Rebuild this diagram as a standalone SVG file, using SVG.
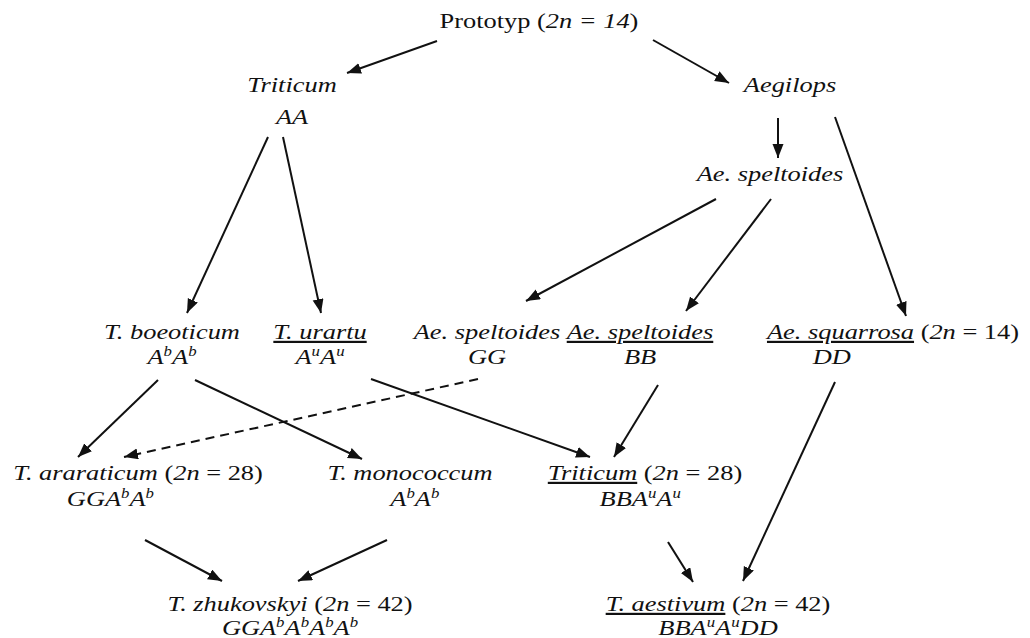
<svg xmlns="http://www.w3.org/2000/svg" width="1030" height="638" viewBox="0 0 1030 638" font-family="Liberation Serif, Times New Roman, Times, DejaVu Serif, serif">
<style>
text{font-family:"Liberation Serif","Times New Roman",Times,"DejaVu Serif","Noto Serif",serif;font-size:22px;font-style:italic;fill:#111;text-anchor:middle}
.n{font-style:normal}
.u{text-decoration:underline}
.s{font-size:14px}
.e{stroke:#111;stroke-width:2;fill:none;marker-end:url(#ah)}
.d{stroke-dasharray:9 6}
</style>
<defs>
<marker id="ah" markerUnits="userSpaceOnUse" markerWidth="16" markerHeight="12" refX="14" refY="5.5" orient="auto">
<path d="M0,0 L14,5.5 L0,11 z" fill="#111"/>
</marker>
</defs>
<rect width="1030" height="638" fill="#fff"/>
<g id="edges">
<line class="e" x1="437" y1="41" x2="347" y2="73"/>
<line class="e" x1="653" y1="40" x2="729" y2="83"/>
<line class="e" x1="778" y1="118" x2="778" y2="158"/>
<line class="e" x1="835" y1="117" x2="906" y2="316"/>
<line class="e" x1="268" y1="137" x2="187" y2="313"/>
<line class="e" x1="283" y1="137" x2="321" y2="313"/>
<line class="e" x1="716" y1="199" x2="526" y2="301"/>
<line class="e" x1="771" y1="199" x2="686" y2="311"/>
<line class="e" x1="158" y1="380" x2="78" y2="457"/>
<line class="e" x1="195" y1="380" x2="362" y2="459"/>
<line class="e" x1="371" y1="379" x2="590" y2="457"/>
<line class="e d" x1="478" y1="379" x2="124" y2="457"/>
<line class="e" x1="658" y1="385" x2="614" y2="457"/>
<line class="e" x1="835" y1="382" x2="743" y2="581"/>
<line class="e" x1="145" y1="540" x2="222" y2="581"/>
<line class="e" x1="387" y1="540" x2="298" y2="581"/>
<line class="e" x1="668" y1="542" x2="693" y2="582"/>
</g>
<g id="prototyp" transform="translate(539,0) scale(1.2,1)">
<text x="0" y="28"><tspan class="n">Prototyp (</tspan>2n = 14<tspan class="n">)</tspan></text>
</g>
<g id="triticum" transform="translate(292,0) scale(1.2,1)">
<text x="0" y="92">Triticum</text>
<text x="0" y="124">AA</text>
</g>
<g id="aegilops" transform="translate(790,0) scale(1.2,1)">
<text x="0" y="92">Aegilops</text>
</g>
<g id="ae-speltoides" transform="translate(770,0) scale(1.2,1)">
<text x="0" y="181">Ae. speltoides</text>
</g>
<g id="t-boeoticum" transform="translate(172,0) scale(1.2,1)">
<text x="0" y="339">T. boeoticum</text>
<text x="0" y="364">A<tspan class="s" dy="-8">b</tspan><tspan dy="8">A</tspan><tspan class="s" dy="-8">b</tspan></text>
</g>
<g id="t-urartu" transform="translate(320,0) scale(1.2,1)">
<text x="0" y="339"><tspan class="u">T. urartu</tspan></text>
<text x="0" y="364">A<tspan class="s" dy="-8">u</tspan><tspan dy="8">A</tspan><tspan class="s" dy="-8">u</tspan></text>
</g>
<g id="ae-speltoides-gg" transform="translate(487,0) scale(1.2,1)">
<text x="0" y="339">Ae. speltoides</text>
<text x="0" y="364">GG</text>
</g>
<g id="ae-speltoides-bb" transform="translate(640,0) scale(1.2,1)">
<text x="0" y="339"><tspan class="u">Ae. speltoides</tspan></text>
<text x="0" y="364">BB</text>
</g>
<g id="ae-squarrosa" transform="translate(893,0) scale(1.2,1)">
<text x="0" y="339"><tspan class="u">Ae. squarrosa</tspan><tspan class="n"> (</tspan>2n<tspan class="n"> = 14)</tspan></text>
<text x="-51" y="364">DD</text>
</g>
<g id="t-araraticum" transform="translate(138,0) scale(1.2,1)">
<text x="0" y="480">T. araraticum<tspan class="n"> (</tspan>2n<tspan class="n"> = 28)</tspan></text>
<text x="-23" y="506">GGA<tspan class="s" dy="-8">b</tspan><tspan dy="8">A</tspan><tspan class="s" dy="-8">b</tspan></text>
</g>
<g id="t-monococcum" transform="translate(410,0) scale(1.2,1)">
<text x="0" y="480">T. monococcum</text>
<text x="4" y="506">A<tspan class="s" dy="-8">b</tspan><tspan dy="8">A</tspan><tspan class="s" dy="-8">b</tspan></text>
</g>
<g id="triticum-28" transform="translate(645,0) scale(1.2,1)">
<text x="0" y="480"><tspan class="u">Triticum</tspan><tspan class="n"> (</tspan>2n<tspan class="n"> = 28)</tspan></text>
<text x="-4" y="506">BBA<tspan class="s" dy="-8">u</tspan><tspan dy="8">A</tspan><tspan class="s" dy="-8">u</tspan></text>
</g>
<g id="t-zhukovskyi" transform="translate(290,0) scale(1.2,1)">
<text x="0" y="611">T. zhukovskyi<tspan class="n"> (</tspan>2n<tspan class="n"> = 42)</tspan></text>
<text x="0" y="635">GGA<tspan class="s" dy="-8">b</tspan><tspan dy="8">A</tspan><tspan class="s" dy="-8">b</tspan><tspan dy="8">A</tspan><tspan class="s" dy="-8">b</tspan><tspan dy="8">A</tspan><tspan class="s" dy="-8">b</tspan></text>
</g>
<g id="t-aestivum" transform="translate(718,0) scale(1.2,1)">
<text x="0" y="611"><tspan class="u">T. aestivum</tspan><tspan class="n"> (</tspan>2n<tspan class="n"> = 42)</tspan></text>
<text x="0" y="635">BBA<tspan class="s" dy="-8">u</tspan><tspan dy="8">A</tspan><tspan class="s" dy="-8">u</tspan><tspan dy="8">DD</tspan></text>
</g>
</svg>
